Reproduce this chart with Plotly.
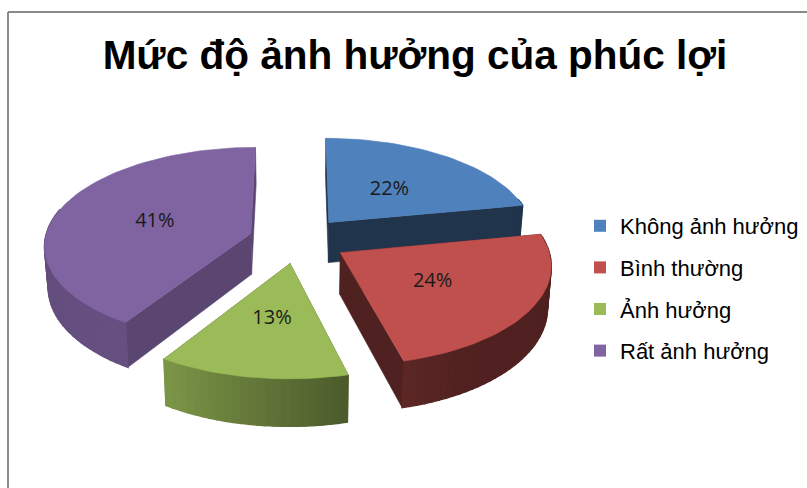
import numpy as np
import plotly.graph_objects as go

CATEGORIES = ["Không ảnh hưởng", "Bình thường", "Ảnh hưởng", "Rất ảnh hưởng"]
VALUES = [22, 24, 13, 41]
COLORS = ["#4f81bd", "#c0504d", "#9bbb59", "#8064a2"]
TITLE = "Mức độ ảnh hưởng của phúc lợi"
FACE_SHADE = [0.40, 0.41, 0.50, 0.70]
DRAW_ORDER = [3, 0, 2, 1]

CX, CY, A, B, K, H, EXPLODE, LABEL_R = 298.0, 240.0, 206.0, 97.0, 0.11, 41.0, 0.24, 0.5
BOTTOM_SCALE = 0.985


def project(X, Y, bottom=False):
    w = 1 + K * Y
    x = A * X / w
    y = -B * Y / w
    if bottom:
        return CX + x * BOTTOM_SCALE, CY + y + H / w
    return CX + x, CY + y


def shade(hexcolor, f):
    r, g, b = (int(hexcolor[i:i + 2], 16) for i in (1, 3, 5))
    return f"rgb({round(r * f)},{round(g * f)},{round(b * f)})"


def rim_shade(deg):
    return float(np.interp(deg, [79, 150, 165, 212, 300], [0.40, 0.42, 0.48, 0.80, 0.75]))


def poly(xs, ys, color, width=0.6):
    return go.Scatter(x=list(xs) + [xs[0]], y=list(ys) + [ys[0]], mode="lines", fill="toself",
                      fillcolor=color, line=dict(color=color, width=width),
                      showlegend=False, hoverinfo="skip")


fig = go.Figure()
edges = np.concatenate([[0], np.cumsum(VALUES)]) / sum(VALUES) * 360
label_x, label_y, label_t = [], [], []

for i in DRAW_ORDER:
    a0, a1 = edges[i], edges[i + 1]
    mid = np.radians((a0 + a1) / 2)
    ox, oy = EXPLODE * np.sin(mid), EXPLODE * np.cos(mid)
    th = np.radians(np.linspace(a0, a1, max(int((a1 - a0) / 2), 8) + 1))
    rx, ry = ox + np.sin(th), oy + np.cos(th)
    color = COLORS[i]

    # radial faces
    for k in (0, -1):
        p0 = project(ox, oy); p1 = project(rx[k], ry[k])
        p2 = project(rx[k], ry[k], True); p3 = project(ox, oy, True)
        fig.add_trace(poly([p0[0], p1[0], p2[0], p3[0]], [p0[1], p1[1], p2[1], p3[1]],
                           shade(color, FACE_SHADE[i])))
    # rim
    for j in range(len(th) - 1):
        if np.cos((th[j] + th[j + 1]) / 2) > 0.25:
            continue
        p0 = project(rx[j], ry[j]); p1 = project(rx[j + 1], ry[j + 1])
        p2 = project(rx[j + 1], ry[j + 1], True); p3 = project(rx[j], ry[j], True)
        fig.add_trace(poly([p0[0], p1[0], p2[0], p3[0]], [p0[1], p1[1], p2[1], p3[1]],
                           shade(color, rim_shade(np.degrees((th[j] + th[j + 1]) / 2))), width=1.5))
    # top
    tx, ty = project(np.concatenate([[ox], rx]), np.concatenate([[oy], ry]))
    fig.add_trace(poly(list(tx), list(ty), color))

    lx, ly = project(ox + LABEL_R * np.sin(mid), oy + LABEL_R * np.cos(mid))
    label_x.append(lx); label_y.append(ly + 2); label_t.append(f"{VALUES[i]}%")

fig.add_trace(go.Scatter(x=label_x, y=label_y, text=label_t, mode="text",
                         textfont=dict(family="Open Sans", size=20, color="#1a1a1a"),
                         showlegend=False, hoverinfo="skip"))

for name, color in zip(CATEGORIES, COLORS):
    fig.add_trace(go.Scatter(x=[None], y=[None], mode="markers", name=name, legendgroup=name,
                             marker=dict(symbol="square", size=12, color=color)))

fig.update_layout(
    width=807, height=488, margin=dict(l=0, r=0, t=0, b=0),
    paper_bgcolor="white", plot_bgcolor="white",
    title=dict(text=f"<b>{TITLE}</b>", x=415 / 807, xanchor="center", y=1 - 55 / 488, yanchor="middle",
               font=dict(family="Liberation Sans", size=40.5, color="black")),
    xaxis=dict(range=[0, 807], visible=False, fixedrange=True),
    yaxis=dict(range=[488, 0], visible=False, fixedrange=True),
    legend=dict(x=580 / 807, xanchor="left", y=1 - 205 / 488, yanchor="top", tracegroupgap=10,
                font=dict(family="Liberation Sans", size=22, color="black"), bgcolor="rgba(0,0,0,0)"),
    shapes=[
        dict(type="line", xref="x", yref="y", x0=8, y0=12, x1=807, y1=12, line=dict(color="#8a8a8a", width=2)),
        dict(type="line", xref="x", yref="y", x0=8, y0=12, x1=8, y1=488, line=dict(color="#8a8a8a", width=2)),
    ],
)
fig.write_html("out.html", post_script="document.body.style.margin='0';document.documentElement.style.overflow='hidden';",
               config={"displayModeBar": False})
